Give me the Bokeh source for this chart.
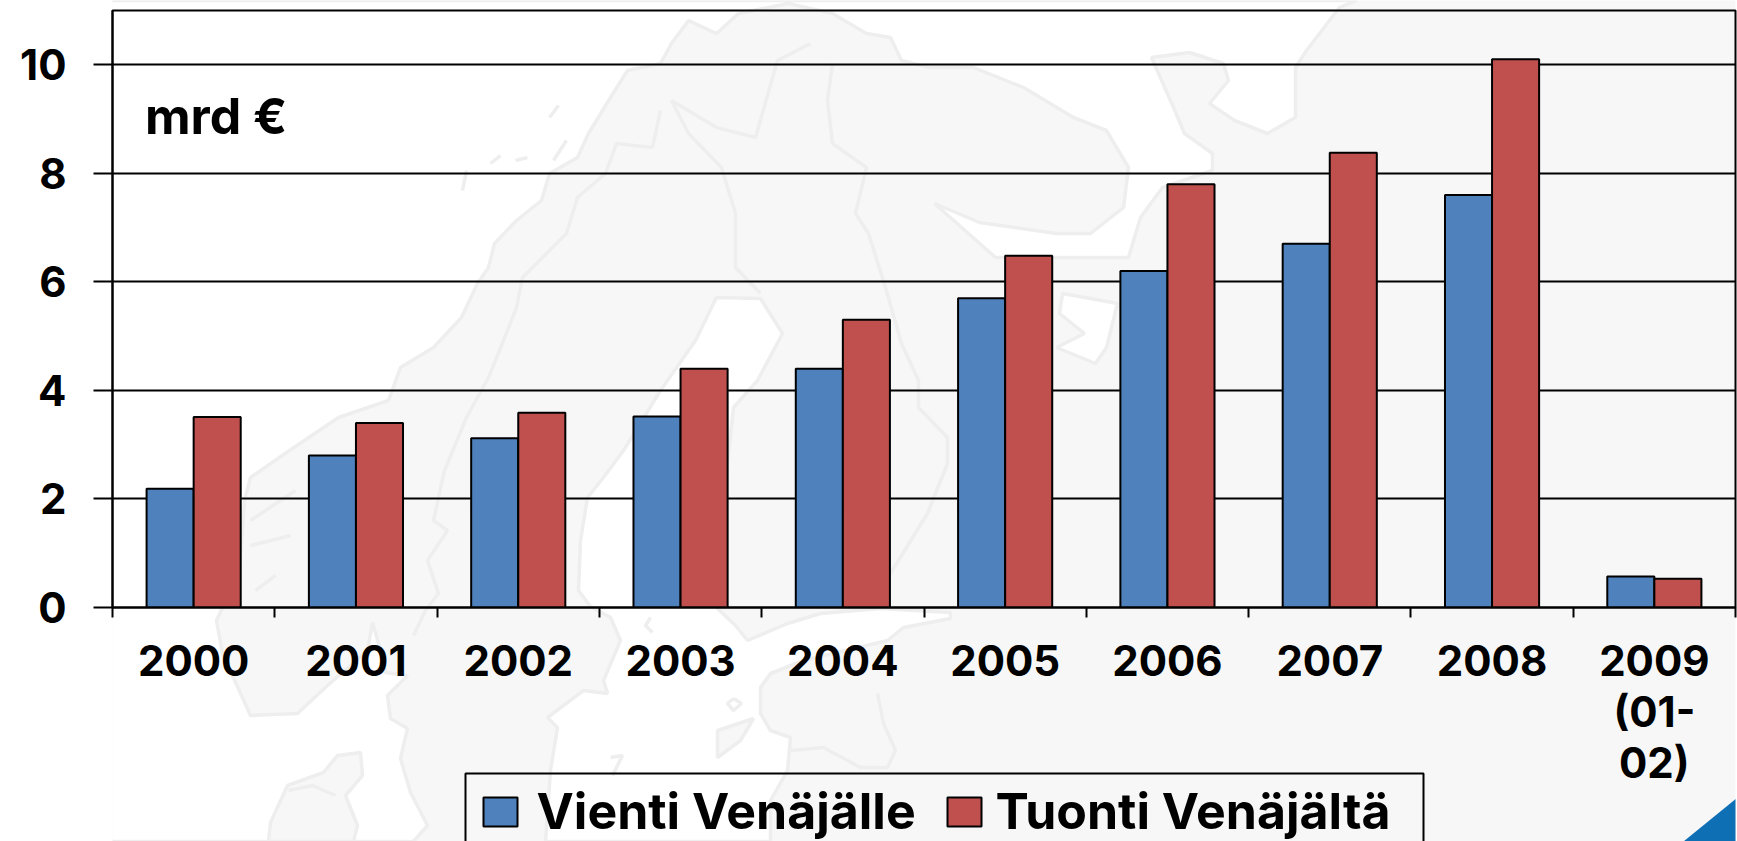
from bokeh.plotting import figure
from bokeh.layouts import column
from bokeh.models import (Range1d, FixedTicker, Label, PolyAnnotation)
from bokeh.embed import file_html
from bokeh.resources import INLINE

years = ["2000", "2001", "2002", "2003", "2004", "2005", "2006", "2007", "2008", "2009\n(01-\n02)"]
vienti = [2.19, 2.8, 3.12, 3.52, 4.4, 5.7, 6.2, 6.7, 7.6, 0.57]
tuonti = [3.51, 3.4, 3.59, 4.4, 5.3, 6.48, 7.8, 8.38, 10.1, 0.53]
y_ticks = [0, 2, 4, 6, 8, 10]
series_names = ["Vienti Venäjälle", "Tuonti Venäjältä"]
unit_label = "mrd €"

FONT = "Inter"
SIZE = "42px"
LAND = "#f7f7f7"
SEA = "#ffffff"
EDGE = "#eeeeee"
W = 1737
H = 841

# faint background map, page pixels
north_sea = [(0,0),(1356,0),(1339,7),(1306,50),(1295,67),(1295,117),(1267,133),(1234,120),(1209,103),(1228,80),(1223,63),(1189,52),(1151,57),(1173,107),(1184,133),(1212,153),(1212,170),(1162,187),(1140,217),(1128,257),(995,257),(934,203),(979,222),(1056,233),(1090,233),(1123,207),(1128,167),(1106,130),(1073,117),(1023,87),(973,67),(929,67),(901,60),(890,37),(866,33),(832,13),(788,3),(738,13),(716,33),(688,20),(671,43),(660,63),(627,70),(610,97),(588,133),(577,157),(549,173),(541,200),(516,220),(494,243),(488,267),(477,283),(461,317),(433,347),(400,367),(388,400),(338,417),(289,450),(250,477),(244,500),(239,570),(216,620),(222,653),(250,715),(297,713),(327,685),(367,650),(372,622),(380,650),(385,672),(407,675),(387,695),(390,718),(407,728),(400,758),(410,792),(427,825),(413,841),(0,841)]
baltic = [(716,297),(760,298),(782,333),(757,380),(733,407),(725,480),(718,560),(717,608),(735,625),(747,640),(787,623),(820,613),(880,608),(950,612),(950,618),(903,627),(887,640),(803,660),(770,673),(760,687),(760,713),(770,730),(790,737),(787,770),(770,800),(770,841),(545,841),(550,770),(557,727),(547,717),(583,690),(607,693),(603,680),(620,640),(610,617),(590,606),(578,590),(580,540),(587,497),(603,477),(623,450),(660,390),(695,340)]
denmark = [(360,752),(337,755),(323,772),(287,785),(270,822),(268,841),(353,841),(357,825),(345,795),(362,775)]
onega = [(1062,293),(1101,300),(1117,303),(1106,347),(1095,363),(1056,347),(1084,333),(1059,313)]
saaremaa = [(717,730),(753,718),(740,740),(717,757)]
borders = [
    [(652,147),(616,143),(605,173),(577,197),(566,233),(522,277),(516,307),(499,350),(488,377),(466,417),(444,470),(433,520),(447,530),(427,560),(438,593),(425,610),(413,635)],
    [(660,110),(652,147)],
    [(671,100),(688,133),(721,167),(735,213),(735,267),(760,293)],
    [(671,100),(716,127),(755,137),(777,60),(810,43)],
    [(832,63),(827,100),(832,143),(866,167),(855,213),(868,233),(885,287),(901,343),(918,380),(918,407),(947,437),(947,463),(927,513),(890,573),(880,590)],
    [(877,693),(883,723),(895,750),(887,767),(860,767),(823,747),(790,750)],
    [(558,105),(549,117)], [(566,140),(553,160)], [(527,157),(515,160)], [(500,155),(490,163)], [(466,170),(462,190)],
    [(295,490),(265,510),(250,520)], [(250,545),(290,535)], [(255,590),(275,575)],
    [(733,698),(727,703),(733,710),(741,703),(733,698)], [(650,617),(645,625),(652,632)], [(610,757),(622,755),(612,775)],
    [(288,790),(312,785),(335,795)],
]
corner = [(1737,797),(1737,841),(1683,841)]

# full-canvas sheet behind the chart: map, corner and legend
back = figure(width=W, height=H, output_backend="svg", toolbar_location=None,
              x_axis_location=None, y_axis_location=None, x_range=Range1d(0, W), y_range=Range1d(H, 0),
              min_border_left=0, min_border_right=0, min_border_top=0, min_border_bottom=0,
              border_fill_color=SEA, background_fill_color=LAND, outline_line_color=None)
back.grid.visible = False

def canvas_poly(points, fill=None, line=EDGE, width=3.5):
    back.add_layout(PolyAnnotation(xs=[a for a, _ in points], ys=[b for _, b in points],
                                   xs_units="canvas", ys_units="canvas", level="underlay",
                                   fill_color=fill or SEA, fill_alpha=1 if fill else 0,
                                   line_color=line or "black", line_width=width, line_alpha=1 if line else 0))

canvas_poly(north_sea, SEA)
canvas_poly(baltic, SEA)
canvas_poly(denmark, LAND)
canvas_poly(onega, SEA)
canvas_poly(saaremaa, LAND)
for b in borders:
    canvas_poly(b + b[::-1])
canvas_poly(corner, "#0f6fb5", None, 0)

BLUE = "#4f81bd"
RED = "#c0504d"
canvas_poly([(465,773),(1423,773),(1423,860),(465,860)], None, "black", 2)
canvas_poly([(483,797),(517,797),(517,826),(483,826)], BLUE, "black", 2)
canvas_poly([(947,797),(981,797),(981,826),(947,826)], RED, "black", 2)
for text, left in zip(series_names, (536, 995)):
    back.add_layout(Label(x=left, y=810, x_units="canvas", y_units="canvas", text=text,
                          text_font=FONT, text_font_style="bold", text_font_size="50px",
                          text_baseline="middle", text_color="black"))

# transparent chart on top
p = figure(width=W, height=H, output_backend="svg", toolbar_location=None,
           x_range=Range1d(0, len(years)), y_range=Range1d(0, 11),
           min_border_left=112, min_border_right=2, min_border_top=10, min_border_bottom=234,
           border_fill_alpha=0, background_fill_alpha=0, outline_line_color="black", outline_line_width=2,
           margin=(-H, 0, 0, 0))

xpos = list(range(len(years)))
bar_w = 0.29
p.vbar(x=[i + 0.5 - bar_w / 2 for i in xpos], top=vienti, bottom=0, width=bar_w,
       fill_color=BLUE, line_color="black", line_width=2)
p.vbar(x=[i + 0.5 + bar_w / 2 for i in xpos], top=tuonti, bottom=0, width=bar_w,
       fill_color=RED, line_color="black", line_width=2)

xa = p.xaxis[0]
xa.ticker = FixedTicker(ticks=[i + 0.5 for i in xpos], minor_ticks=xpos + [len(years)])
xa.major_label_overrides = {i + 0.5: y for i, y in zip(xpos, years)}
xa.major_tick_out = 0
xa.major_tick_in = 0
xa.minor_tick_out = 10
xa.minor_tick_in = 0
xa.major_label_standoff = 17
xa.major_label_text_line_height = 1.0
ya = p.yaxis[0]
ya.ticker = FixedTicker(ticks=y_ticks)
ya.major_tick_out = 19
ya.major_tick_in = 0
ya.minor_tick_out = 0
ya.minor_tick_in = 0
ya.major_label_standoff = 27
for ax in (xa, ya):
    ax.axis_line_color = "black"
    ax.axis_line_width = 2
    ax.major_tick_line_color = "black"
    ax.major_tick_line_width = 2
    ax.minor_tick_line_color = "black"
    ax.minor_tick_line_width = 2
    ax.major_label_text_font = FONT
    ax.major_label_text_font_style = "bold"
    ax.major_label_text_font_size = SIZE
    ax.major_label_text_color = "black"

p.xgrid.visible = False
g = p.ygrid[0]
g.ticker = FixedTicker(ticks=y_ticks)
g.grid_line_color = "black"
g.grid_line_width = 2

p.add_layout(Label(x=0.2, y=9.05, text=unit_label, text_font=FONT, text_font_style="bold",
                   text_font_size="50px", text_baseline="middle", text_color="black"))

page = column(back, p, spacing=0, margin=0)
open("out.html", "w").write(file_html(page, INLINE))
